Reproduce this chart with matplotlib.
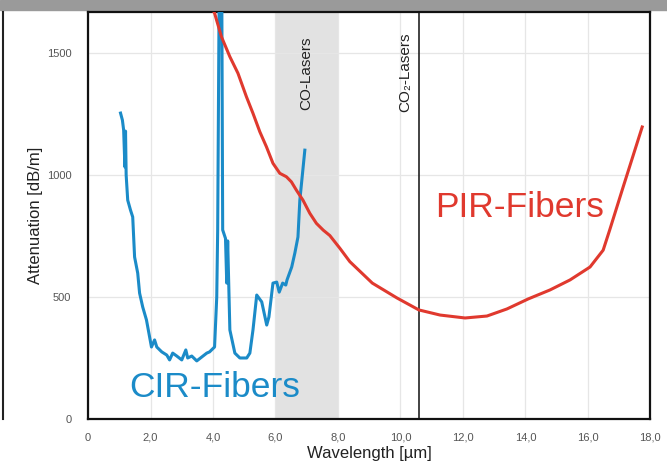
"""
Attenuation of CIR and PIR fibers versus wavelength.
"""
import matplotlib
matplotlib.use("Agg")
import matplotlib.pyplot as plt
from matplotlib.patches import Rectangle
from matplotlib.ticker import FuncFormatter

plt.rcParams['font.family'] = ['Liberation Sans', 'DejaVu Sans']

# CIR fibers (blue), wavelength in um / attenuation in dB/m
cir_wl = [1.04, 1.10, 1.14, 1.18, 1.20, 1.22, 1.27, 1.36, 1.43, 1.49, 1.59, 1.65,
          1.75, 1.87, 2.03, 2.13, 2.20, 2.36, 2.52, 2.61, 2.71, 2.84, 3.00, 3.13,
          3.19, 3.32, 3.48, 3.64, 3.80, 3.89, 4.05, 4.12, 4.15, 4.20, 4.28, 4.31,
          4.40, 4.44, 4.47, 4.54, 4.70, 4.86, 5.08, 5.18, 5.28, 5.40, 5.56, 5.72,
          5.79, 5.92, 6.04, 6.12, 6.23, 6.33, 6.37, 6.52, 6.62, 6.72, 6.78, 6.94]
cir_att = [1254, 1225, 1184, 1033, 1180, 1000, 897, 856, 828, 664, 598, 516,
           459, 406, 295, 324, 295, 275, 262, 242, 270, 258, 242, 283,
           250, 258, 238, 254, 270, 275, 295, 500, 775, 1800, 1800, 775,
           740, 557, 730, 365, 270, 250, 250, 270, 365, 508, 480, 385,
           418, 557, 561, 520, 557, 549, 570, 623, 680, 746, 897, 1102]

# PIR fibers (red)
pir_wl = [3.90, 4.05, 4.27, 4.54, 4.80, 5.07, 5.28, 5.50, 5.71, 5.92, 6.14,
          6.35, 6.51, 6.67, 6.88, 7.10, 7.31, 7.53, 7.74, 8.06, 8.38,
          9.10, 9.89, 10.59, 11.27, 12.07, 12.77, 13.41, 14.09, 14.79, 15.43,
          16.07, 16.49, 16.70, 17.13, 17.74]
pir_att = [1700, 1664, 1567, 1485, 1417, 1321, 1253, 1177, 1116, 1048, 1007,
           993, 972, 938, 897, 843, 802, 774, 752, 700, 645,
           557, 496, 447, 426, 414, 422, 451, 492, 529, 570,
           623, 692, 775, 951, 1197]

co_band = (6.0, 8.0)
co2_line = 10.6
x_ticks = [0, 2, 4, 6, 8, 10, 12, 14, 16, 18]
y_ticks = [0, 500, 1000, 1500]

blue = '#1b8bc8'
red = '#e0392e'

fig = plt.figure(figsize=(6.67, 4.65), dpi=100)
fig.patch.set_facecolor('white')
ax = fig.add_axes([0.132, 0.099, 0.843, 0.875])

ax.axvspan(*co_band, color='#e2e2e2', zorder=0, lw=0)
ax.axvline(co2_line, color='#222222', lw=1.2, zorder=1)

ax.plot(cir_wl, cir_att, color=blue, lw=2.2, zorder=3)
ax.plot(pir_wl, pir_att, color=red, lw=2.2, zorder=3)

ax.set_xlim(0, 18)
ax.set_ylim(0, 1668)
ax.set_xticks(x_ticks)
ax.set_yticks(y_ticks)
ax.xaxis.set_major_formatter(FuncFormatter(
    lambda v, p: '0' if v == 0 else f'{v:.1f}'.replace('.', ',')))
ax.grid(True, color='#e6e6e6', lw=0.9, zorder=0)
ax.set_axisbelow(True)
ax.tick_params(length=0, labelsize=8, labelcolor='#555555')
ax.tick_params(axis='x', pad=10)
ax.tick_params(axis='y', pad=12)
for s in ax.spines.values():
    s.set_linewidth(1.6)
    s.set_color('#111111')

ax.set_xlabel('Wavelength [µm]', fontsize=12, color='#222222', labelpad=2)
ax.set_ylabel('Attenuation [dB/m]', fontsize=12, color='#222222', labelpad=3)

ax.text(7.0, 1418, 'CO-Lasers', rotation=90, ha='center', va='center',
        fontsize=11, color='#222222')
ax.text(10.15, 1422, 'CO₂-Lasers', rotation=90, ha='center', va='center',
        fontsize=11, color='#222222')
ax.text(1.33, 90, 'CIR-Fibers', color=blue, fontsize=25.5, ha='left', va='baseline')
ax.text(11.1, 828, 'PIR-Fibers', color=red, fontsize=25.5, ha='left', va='baseline')

# slide frame remnants
fig.patches.append(Rectangle((0, 0.978), 1, 0.022, transform=fig.transFigure,
                             color='#9a9a9a', zorder=-1))
fig.lines.append(plt.Line2D([0.005, 0.005], [0.099, 0.974], transform=fig.transFigure,
                            color='#222222', lw=1.5))

fig.savefig('out.png', dpi=100)
